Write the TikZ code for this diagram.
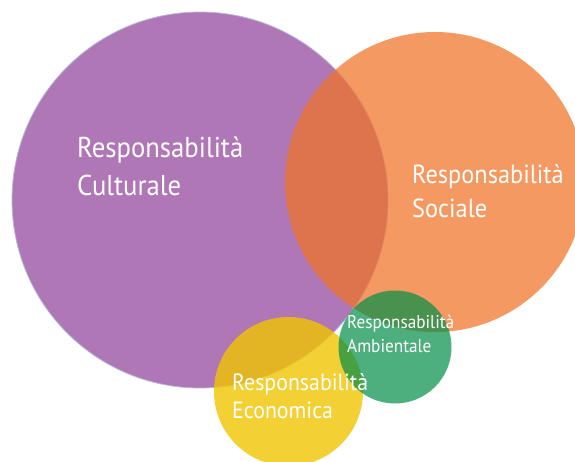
\documentclass[tikz,border=0pt]{standalone}
\usepackage{fontspec}
\setmainfont[FakeStretch=0.93]{PT Sans}
\definecolor{cpurple}{RGB}{176,119,182}
\definecolor{cpedge}{RGB}{178,186,222}
\definecolor{corange}{RGB}{240,115,37}
\definecolor{cyellow}{RGB}{240,197,0}
\definecolor{cgreen}{RGB}{0,142,71}
\begin{document}
\begin{tikzpicture}[x=1pt,y=-1pt,
  lbl/.style={anchor=base west, inner sep=0pt, text=white, align=left}]
\useasboundingbox (0,0) rectangle (575,461);
\clip (0,0) rectangle (575,461);
\fill[white] (0,0) rectangle (575,461);
% circles
\path[fill=cpurple, draw=cpedge, line width=0.8pt] (200,200) circle[radius=188pt];
\path[fill=corange, fill opacity=0.72] (435,182) circle[radius=150pt];
\path[fill=cyellow, fill opacity=0.8] (288.5,391.5) circle[radius=74.5pt];
\path[fill=cgreen, fill opacity=0.7] (395,347) circle[radius=56.5pt];
% labels (anchor = baseline of last line)
\node[lbl, font=\fontsize{28.7}{38}\selectfont] (cult) at (77,195) {Responsabilità\\Culturale};
\node[lbl, font=\fontsize{26.2}{34}\selectfont] (soc) at (412,217) {Responsabilità\\Sociale};
\node[lbl, font=\fontsize{18.5}{24}\selectfont] (amb) at (347,352) {Responsabilità\\Ambientale};
\node[lbl, font=\fontsize{23.5}{28}\selectfont] (eco) at (232,418) {Responsabilità\\Economica};
\end{tikzpicture}
\end{document}
